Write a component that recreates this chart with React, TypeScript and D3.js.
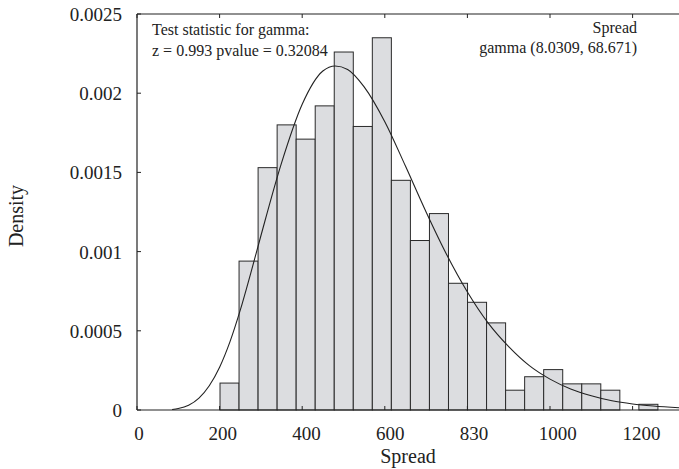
import { useMemo } from "react";
import { scaleLinear, line, curveMonotoneX } from "d3";

const W = 679;
const H = 469;
const M = { top: 14, bottom: 410, left: 137 };

// histogram: 23 equal bins starting near 201, width ~46.1
const binStart = 201;
const binWidth = 46.1;
const density = [
  0.00017, 0.00094, 0.00153, 0.0018, 0.00171, 0.00192, 0.00226, 0.00179,
  0.00235, 0.00145, 0.00107, 0.00124, 0.0008, 0.00068, 0.00055, 0.000125,
  0.00021, 0.000255, 0.000165, 0.000165, 0.000125, 0, 0.000036,
];

// fitted gamma curve
const curveX = [
  85, 100, 125, 150, 175, 200, 225, 250, 275, 300, 350, 400, 450, 480, 510, 550, 600,
  650, 700, 750, 800, 850, 900, 950, 1000, 1050, 1100, 1150, 1200, 1250, 1320,
];
const curveY = [
  0.000003, 0.000009, 0.00003, 0.000075, 0.000153, 0.00027, 0.00043, 0.00063,
  0.00086, 0.0011, 0.00156, 0.00193, 0.00214, 0.002172, 0.00215, 0.00204, 0.00182,
  0.00154, 0.00125, 0.00098, 0.000745, 0.00055, 0.0004, 0.00028, 0.000195,
  0.000133, 0.00009, 0.000058, 0.000038, 0.000025, 0.000013,
];

const xTicks = [0, 200, 400, 600, 800, 1000, 1200];
const xTickLabels = ["0", "200", "400", "600", "830", "1000", "1200"];
const yTicks = [0, 0.0005, 0.001, 0.0015, 0.002, 0.0025];
const yTickLabels = ["0", "0.0005", "0.001", "0.0015", "0.002", "0.0025"];

const statLines = ["Test statistic for gamma:", "z = 0.993 pvalue = 0.32084"];
const legendLines = ["Spread", "gamma (8.0309, 68.671)"];

const FONT = "Liberation Serif, DejaVu Serif, Times New Roman, serif";

export default function App() {
  const x = useMemo(() => scaleLinear().domain([0, 1200]).range([M.left, 632.6]), []);
  // the printed labels drift a little to the right of their ticks
  const xl = useMemo(() => scaleLinear().domain([0, 1200]).range([M.left + 2, 641.5]), []);
  const y = useMemo(() => scaleLinear().domain([0, 0.0025]).range([M.bottom, M.top]), []);

  const pts = curveX.map((v, i) => [v, curveY[i]] as [number, number]);
  const path = line<[number, number]>()
    .x((d) => x(d[0]))
    .y((d) => y(d[1]))
    .curve(curveMonotoneX)(pts);

  return (
    <div style={{ position: "fixed", left: 0, top: 0 }}>
      <svg width={W} height={H} fontFamily={FONT} style={{ display: "block" }}>
        <rect width={W} height={H} fill="#fff" />
        <defs>
          <clipPath id="plot">
            <rect x={M.left} y={M.top} width={W - M.left} height={M.bottom - M.top} />
          </clipPath>
        </defs>

        {density.map((d, i) => {
          if (d <= 0) return null;
          const x0 = x(binStart + i * binWidth);
          const x1 = x(binStart + (i + 1) * binWidth);
          return (
            <rect
              key={i}
              x={x0}
              y={y(d)}
              width={x1 - x0}
              height={M.bottom - y(d)}
              fill="#dcdde0"
              stroke="#2a2a2a"
              strokeWidth={1}
            />
          );
        })}

        <path d={path ?? undefined} fill="none" stroke="#222" strokeWidth={1.1} clipPath="url(#plot)" />

        {/* frame */}
        <line x1={M.left} x2={M.left} y1={M.top} y2={M.bottom} stroke="#222" strokeWidth={1.2} />
        <line x1={M.left} x2={W} y1={M.top} y2={M.top} stroke="#222" strokeWidth={1.2} />
        <line x1={M.left} x2={W} y1={M.bottom} y2={M.bottom} stroke="#222" strokeWidth={1.2} />

        {xTicks.map((t, i) => (
          <g key={t}>
            <line x1={x(t)} x2={x(t)} y1={M.bottom} y2={M.bottom - 4} stroke="#222" />
            <line x1={x(t)} x2={x(t)} y1={M.top} y2={M.top + 4} stroke="#222" />
            <text x={xl(t)} y={439.5} textAnchor="middle" fontSize={19} fill="#222" fontFamily={FONT}>
              {xTickLabels[i]}
            </text>
          </g>
        ))}

        {yTicks.map((t, i) => (
          <g key={t}>
            <line x1={M.left} x2={M.left + 4} y1={y(t)} y2={y(t)} stroke="#222" />
            <text x={122} y={y(t) + 7} textAnchor="end" fontSize={19} fill="#222" fontFamily={FONT}>
              {yTickLabels[i]}
            </text>
          </g>
        ))}

        <text x={408} y={463} textAnchor="middle" fontSize={20} fill="#222" fontFamily={FONT}>
          Spread
        </text>
        <text
          transform={`translate(23, ${(M.top + M.bottom) / 2 + 4}) rotate(-90)`}
          textAnchor="middle"
          fontSize={20}
          fill="#222"
          fontFamily={FONT}
        >
          Density
        </text>

        {statLines.map((s, i) => (
          <text key={s} x={152} y={35 + i * 21} fontSize={16} fill="#222" fontFamily={FONT}>
            {s}
          </text>
        ))}
        {legendLines.map((s, i) => (
          <text key={s} x={637} y={33 + i * 20} textAnchor="end" fontSize={16} fill="#222" fontFamily={FONT}>
            {s}
          </text>
        ))}
      </svg>
    </div>
  );
}
